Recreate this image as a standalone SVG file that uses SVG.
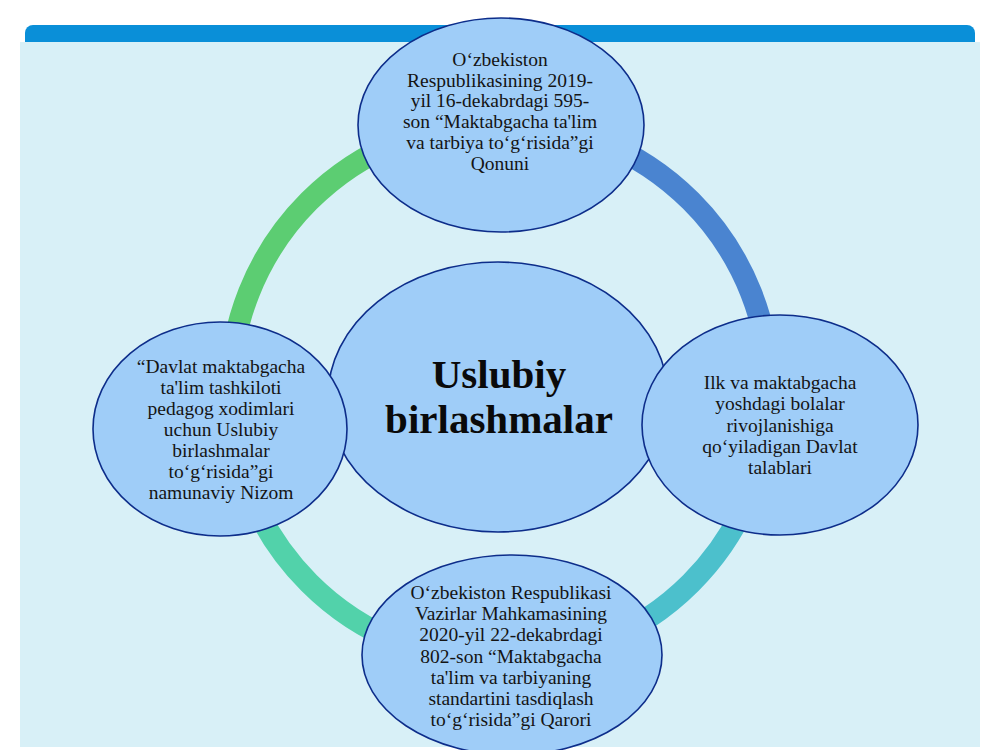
<svg xmlns="http://www.w3.org/2000/svg" width="1000" height="750" viewBox="0 0 1000 750">
<style>
.node{fill:#9fcdf8;stroke:#0d2d8a;stroke-width:1.6}
.t{font-family:"Liberation Serif","Times New Roman",serif;font-size:19.5px;fill:#141414;text-anchor:middle}
.big{font-family:"Liberation Serif","Times New Roman",serif;font-size:41px;font-weight:bold;fill:#0a0a0a;text-anchor:middle}
.ring{fill:none;stroke-width:22}
</style>
<rect x="0" y="0" width="1000" height="750" fill="#ffffff"/>
<rect x="20" y="42" width="960" height="705" fill="#d8f0f7"/>
<path d="M25 42 V33 a8 8 0 0 1 8 -8 H967 a8 8 0 0 1 8 8 V42 Z" fill="#0a8fd8"/>
<g id="connectors">
<path class="ring" stroke="#5ccd72" d="M230 392 A270 270 0 0 1 500 122"/>
<path class="ring" stroke="#4a84d0" d="M500 122 A270 270 0 0 1 770 392"/>
<path class="ring" stroke="#4cc0cc" d="M770 392 A270 270 0 0 1 500 662"/>
<path class="ring" stroke="#52d2aa" d="M500 662 A270 270 0 0 1 230 392"/>
</g>
<g id="center">
<ellipse class="node" cx="498" cy="397" rx="170" ry="135"/>
<text class="big" x="499" y="388">Uslubiy</text>
<text class="big" x="499" y="433">birlashmalar</text>
</g>
<g id="top">
<ellipse class="node" cx="501" cy="125" rx="143" ry="107"/>
<text class="t" x="500" y="66">O‘zbekiston</text>
<text class="t" x="500" y="86.7">Respublikasining 2019-</text>
<text class="t" x="500" y="107.4">yil 16-dekabrdagi 595-</text>
<text class="t" x="500" y="128.1">son “Maktabgacha ta'lim</text>
<text class="t" x="500" y="148.8">va tarbiya to‘g‘risida”gi</text>
<text class="t" x="500" y="169.5">Qonuni</text>
</g>
<g id="right">
<ellipse class="node" cx="780" cy="425" rx="138" ry="110"/>
<text class="t" x="780" y="389">Ilk va maktabgacha</text>
<text class="t" x="780" y="410.2">yoshdagi bolalar</text>
<text class="t" x="780" y="431.5">rivojlanishiga</text>
<text class="t" x="780" y="452.7">qo‘yiladigan Davlat</text>
<text class="t" x="780" y="474">talablari</text>
</g>
<g id="bottom">
<ellipse class="node" cx="512" cy="655" rx="150" ry="100"/>
<text class="t" x="511" y="599">O‘zbekiston Respublikasi</text>
<text class="t" x="511" y="620.2">Vazirlar Mahkamasining</text>
<text class="t" x="511" y="641.4">2020-yil 22-dekabrdagi</text>
<text class="t" x="511" y="662.6">802-son “Maktabgacha</text>
<text class="t" x="511" y="683.8">ta'lim va tarbiyaning</text>
<text class="t" x="511" y="705">standartini tasdiqlash</text>
<text class="t" x="511" y="726.2">to‘g‘risida”gi Qarori</text>
</g>
<g id="left">
<ellipse class="node" cx="220" cy="429" rx="127" ry="107"/>
<text class="t" x="221" y="373">“Davlat maktabgacha</text>
<text class="t" x="221" y="394">ta'lim tashkiloti</text>
<text class="t" x="221" y="415">pedagog xodimlari</text>
<text class="t" x="221" y="436">uchun Uslubiy</text>
<text class="t" x="221" y="457">birlashmalar</text>
<text class="t" x="221" y="478">to‘g‘risida”gi</text>
<text class="t" x="221" y="499">namunaviy Nizom</text>
</g>
</svg>
